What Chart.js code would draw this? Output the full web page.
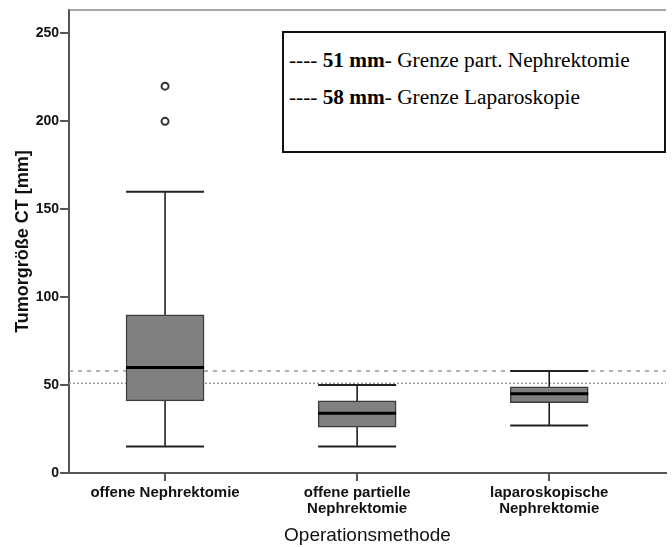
<!DOCTYPE html>
<html lang="de">
<head>
<meta charset="utf-8">
<title>Tumorgröße nach Operationsmethode</title>
<script src="https://cdn.jsdelivr.net/npm/chart.js@4.4.1/dist/chart.umd.min.js"></script>
<style>
  html, body { margin: 0; padding: 0; background: #fff; }
  #wrap { position: relative; width: 672px; height: 547px; }
  #chart { display: block; }
  #grenzen {
    position: absolute; left: 282px; top: 31px; width: 384px; height: 122px;
    box-sizing: border-box; border: 2px solid #111; background: #fff;
    padding: 9px 0 0 5px;
    font-family: "Liberation Serif", "Times New Roman", serif;
    font-size: 21.3px; line-height: 37px; color: #000; white-space: nowrap;
  }
</style>
</head>
<body>
<div id="wrap">
  <canvas id="chart" width="672" height="547"></canvas>
  <div id="grenzen">
    <div>---- <b>51 mm</b>- Grenze part. Nephrektomie</div>
    <div>---- <b>58 mm</b>- Grenze Laparoskopie</div>
  </div>
</div>
<script>
// Operationsmethoden auf der x-Achse (mehrzeilige Beschriftung)
const methoden = [
  ['offene Nephrektomie'],
  ['offene partielle', 'Nephrektomie'],
  ['laparoskopische', 'Nephrektomie']
];

// Boxplot-Kennwerte der Tumorgröße in mm
const minimum  = [15, 15, 27];
const quartil1 = [41, 26, 40];
const median   = [60, 34, 45];
const quartil3 = [90, 41, 49];
const maximum  = [160, 50, 58];

// Ausreißer (Methode 1 = offene Nephrektomie)
const ausreisserMethode = [1, 1];
const ausreisserWert    = [200, 220];

// Grenzwerte
const grenzePartiell     = 51;
const grenzeLaparoskopie = 58;

const yTicks = [0, 50, 100, 150, 200, 250];
const yMax = 263.3;
const xMin = 0.5;
const xMax = 3.608;

const achsenFarbe = '#555';
const schrift = 'Liberation Sans, Arial, sans-serif';

// Whisker, Endstriche, Median und obere Rahmenlinie
const boxplotLinien = {
  id: 'boxplotLinien',
  afterDatasetsDraw(chart) {
    const ctx = chart.ctx;
    const y = chart.scales.y;
    const meta = chart.getDatasetMeta(0);
    ctx.save();
    meta.data.forEach((bar, i) => {
      const x = bar.x;
      const half = bar.width / 2;

      ctx.strokeStyle = '#111';
      ctx.lineWidth = 1.5;
      ctx.beginPath();
      ctx.moveTo(x, y.getPixelForValue(quartil3[i]));
      ctx.lineTo(x, y.getPixelForValue(maximum[i]));
      ctx.moveTo(x, y.getPixelForValue(quartil1[i]));
      ctx.lineTo(x, y.getPixelForValue(minimum[i]));
      ctx.stroke();

      ctx.strokeStyle = '#222';
      ctx.lineWidth = 2;
      ctx.beginPath();
      [maximum[i], minimum[i]].forEach(v => {
        const py = y.getPixelForValue(v);
        ctx.moveTo(x - half, py);
        ctx.lineTo(x + half, py);
      });
      ctx.stroke();

      ctx.strokeStyle = '#000';
      ctx.lineWidth = 3;
      ctx.beginPath();
      const pm = y.getPixelForValue(median[i]);
      ctx.moveTo(x - half, pm);
      ctx.lineTo(x + half, pm);
      ctx.stroke();
    });

    const a = chart.chartArea;
    ctx.strokeStyle = '#8a8a8a';
    ctx.lineWidth = 1.5;
    ctx.beginPath();
    ctx.moveTo(a.left, a.top);
    ctx.lineTo(a.right, a.top);
    ctx.stroke();
    ctx.restore();
  }
};

new Chart(document.getElementById('chart'), {
  type: 'bar',
  data: {
    datasets: [
      {
        type: 'bar',
        data: methoden.map((m, i) => ({ x: i + 1, y: [quartil1[i], quartil3[i]] })),
        backgroundColor: '#808080',
        borderColor: '#3c3c3c',
        borderWidth: 1.5,
        borderSkipped: false,
        barThickness: 78,
        order: 1
      },
      {
        type: 'scatter',
        data: ausreisserWert.map((v, i) => ({ x: ausreisserMethode[i], y: v })),
        pointRadius: 3.5,
        pointBorderWidth: 2,
        borderColor: '#333',
        backgroundColor: '#fff',
        order: 0
      },
      {
        type: 'line',
        data: [{ x: xMin, y: grenzeLaparoskopie }, { x: xMax, y: grenzeLaparoskopie }],
        borderColor: '#9a9a9a',
        borderWidth: 1.5,
        borderDash: [4, 5],
        pointRadius: 0,
        order: 3
      },
      {
        type: 'line',
        data: [{ x: xMin, y: grenzePartiell }, { x: xMax, y: grenzePartiell }],
        borderColor: '#9a9a9a',
        borderWidth: 1.5,
        borderDash: [2, 2],
        pointRadius: 0,
        order: 3
      }
    ]
  },
  options: {
    responsive: false,
    animation: false,
    devicePixelRatio: 1,
    layout: { padding: { top: 10, left: 0, right: 0, bottom: 0 } },
    plugins: { legend: { display: false }, tooltip: { enabled: false } },
    scales: {
      x: {
        type: 'linear',
        min: xMin,
        max: xMax,
        offset: false,
        afterBuildTicks: s => { s.ticks = methoden.map((m, i) => ({ value: i + 1 })); },
        afterFit: s => { s.height = 74; },
        ticks: {
          callback: v => methoden[v - 1],
          autoSkip: false,
          maxRotation: 0,
          padding: 4,
          color: '#111',
          font: { family: schrift, size: 15, weight: 'bold', lineHeight: 1.05 }
        },
        grid: { offset: false, drawOnChartArea: false, drawTicks: true, tickLength: 8, color: achsenFarbe, lineWidth: 2 },
        border: { color: achsenFarbe, width: 2 },
        title: {
          display: true,
          text: 'Operationsmethode',
          color: '#111',
          font: { family: schrift, size: 19 },
          padding: { top: 0, bottom: 0 }
        }
      },
      y: {
        min: 0,
        max: yMax,
        afterBuildTicks: s => { s.ticks = yTicks.map(v => ({ value: v })); },
        afterFit: s => { s.width = 69; },
        ticks: {
          padding: 1,
          color: '#111',
          font: { family: schrift, size: 14, weight: 'bold' }
        },
        grid: { drawOnChartArea: false, drawTicks: true, tickLength: 9, color: achsenFarbe, lineWidth: 2 },
        border: { color: achsenFarbe, width: 2 },
        title: {
          display: true,
          text: 'Tumorgröße CT [mm]',
          color: '#111',
          font: { family: schrift, size: 18, weight: 'bold' },
          padding: { top: 12, bottom: 0 }
        }
      }
    }
  },
  plugins: [boxplotLinien]
});
</script>
</body>
</html>
